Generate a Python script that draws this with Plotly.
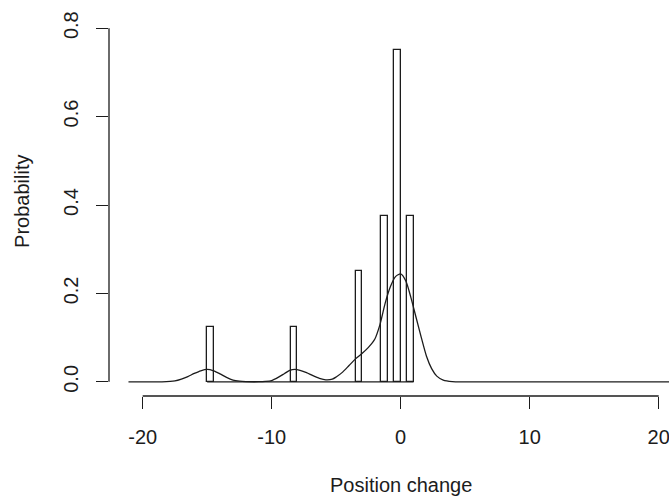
import plotly.graph_objects as go

# Histogram (density scale), bin width 0.5
bin_left = [-15.0, -8.5, -3.5, -1.5, -0.5, 0.5]
bin_density = [0.125, 0.125, 0.25, 0.375, 0.75, 0.375]
bin_width = 0.5
hist_range = [-15.0, 1.0]

# Density curve
dens_x = [-21.1, -18.5, -17.5, -17.0, -16.5, -16.0, -15.5, -15.0, -14.5, -14.0,
          -13.5, -13.0, -12.5, -12.0, -11.0, -10.5, -10.0, -9.5, -9.0, -8.6,
          -8.2, -7.8, -7.3, -6.8, -6.3, -5.8, -5.3, -5.0, -4.5, -4.0,
          -3.5, -3.0, -2.5, -2.0, -1.6, -1.2, -0.8, -0.4, 0.0, 0.4,
          0.8, 1.2, 1.6, 2.0, 2.4, 2.8, 3.3, 4.0, 5.0, 21.0]
dens_y = [0.0, 0.0, 0.002, 0.006, 0.012, 0.019, 0.025, 0.028, 0.025, 0.018,
          0.010, 0.004, 0.0015, 0.0005, 0.0003, 0.001, 0.003, 0.010, 0.019, 0.026,
          0.028, 0.026, 0.021, 0.014, 0.008, 0.0045, 0.006, 0.011, 0.022, 0.037,
          0.052, 0.064, 0.078, 0.097, 0.13, 0.178, 0.215, 0.238, 0.244, 0.228,
          0.19, 0.145, 0.10, 0.058, 0.03, 0.013, 0.004, 0.0005, 0.0, 0.0]

x_ticks = [-20, -10, 0, 10, 20]
x_ticktext = ["-20", "-10", "0", "10", "20"]
y_ticks = [0.0, 0.2, 0.4, 0.6, 0.8]
y_ticktext = ["0.0", "0.2", "0.4", "0.6", "0.8"]

INK = "#1c1c1c"
FONT = "Liberation Sans, Arial, Helvetica, sans-serif"
FS = 20
LW = 1.3

fig = go.Figure()

# baseline of the histogram (zero-count bins)
fig.add_trace(go.Scatter(x=hist_range, y=[0, 0], mode="lines",
                         line=dict(color=INK, width=LW), hoverinfo="skip",
                         showlegend=False))

fig.add_trace(go.Bar(x=[b + bin_width / 2 for b in bin_left], y=bin_density,
                     width=bin_width, marker=dict(color="rgba(255,255,255,0)",
                                                  line=dict(color=INK, width=LW)),
                     showlegend=False))

fig.add_trace(go.Scatter(x=dens_x, y=dens_y, mode="lines",
                         line=dict(color=INK, width=LW, shape="spline", smoothing=0.7),
                         showlegend=False))

fig.update_layout(
    width=669, height=496,
    margin=dict(l=109, r=0, t=14, b=100),
    plot_bgcolor="white", paper_bgcolor="white",
    font=dict(family=FONT, size=FS, color=INK),
    bargap=0,
    xaxis=dict(range=[-22.61, 20.80], tickvals=x_ticks, ticktext=x_ticktext,
               ticks="outside", ticklabeloverflow="allow",
               ticklen=12, tickwidth=LW, tickcolor=INK, showgrid=False,
               zeroline=False, showline=False, ticklabelstandoff=11,
               tickfont=dict(family=FONT, size=FS, color=INK)),
    yaxis=dict(range=[-0.032, 0.832], tickvals=y_ticks, ticktext=y_ticktext,
               ticks="outside", ticklen=12, tickwidth=LW, tickcolor=INK,
               showgrid=False, zeroline=False, showline=False, tickangle=-90,
               ticklabelstandoff=10, ticklabeloverflow="allow",
               tickfont=dict(family=FONT, size=FS, color=INK)),
    shapes=[
        dict(type="line", xref="x", yref="paper", x0=x_ticks[0], x1=x_ticks[-1],
             y0=0, y1=0, line=dict(color=INK, width=LW)),
        dict(type="line", xref="paper", yref="y", x0=0, x1=0,
             y0=y_ticks[0], y1=y_ticks[-1], line=dict(color=INK, width=LW)),
    ],
    annotations=[
        dict(text="Position change", xref="x", yref="paper", x=0, y=0,
             xanchor="center", yanchor="middle", yshift=-89, showarrow=False,
             font=dict(family=FONT, size=FS, color=INK)),
        dict(text="Probability", xref="paper", yref="paper", x=0, y=0.508,
             xanchor="center", yanchor="middle", xshift=-87, textangle=-90,
             showarrow=False, font=dict(family=FONT, size=FS, color=INK)),
    ],
)

fig.write_html("out.html")
